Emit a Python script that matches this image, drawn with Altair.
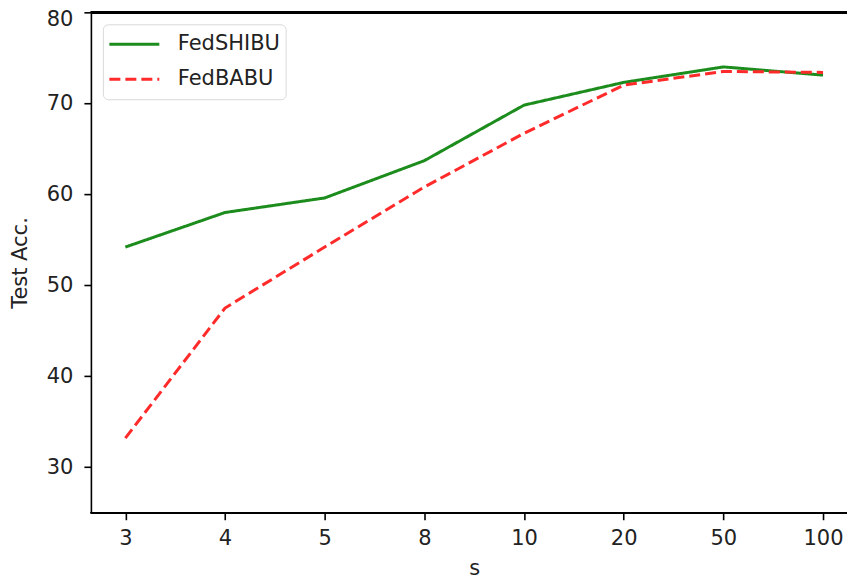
import altair as alt
import pandas as pd

s_values = ["3", "4", "5", "8", "10", "20", "50", "100"]
fedshibu = [54.2, 58.0, 59.6, 63.7, 69.8, 72.3, 74.0, 73.1]
fedbabu = [33.2, 47.5, 54.2, 60.8, 66.7, 72.0, 73.5, 73.4]
series = ["FedSHIBU", "FedBABU"]
y_ticks = [30, 40, 50, 60, 70, 80]

rows = []
for name, vals in zip(series, [fedshibu, fedbabu]):
    for s, v in zip(s_values, vals):
        rows.append({"s": s, "acc": v, "method": name})
df = pd.DataFrame(rows)

FONT = "DejaVu Sans"
FS = 21

lines = alt.Chart(df).mark_line(strokeWidth=3).encode(
    x=alt.X(
        "s:N",
        sort=s_values,
        scale=alt.Scale(type="point", range=[34.5, 733], padding=0),
        axis=alt.Axis(labelAngle=0, title="s", domain=False),
    ),
    y=alt.Y(
        "acc:Q",
        scale=alt.Scale(domain=[25, 80], nice=False, zero=False),
        axis=alt.Axis(values=y_ticks, title="Test Acc.", labelFlush=1, labelFlushOffset=4),
    ),
    color=alt.Color(
        "method:N",
        scale=alt.Scale(domain=series, range=["#1c8c1c", "#ff2a2a"]),
        legend=alt.Legend(title=None),
    ),
    strokeDash=alt.StrokeDash(
        "method:N",
        scale=alt.Scale(domain=series, range=[[1, 0], [11, 5]]),
        legend=alt.Legend(title=None),
    ),
)

top_spine = alt.Chart(df).mark_rule(color="black", strokeWidth=1.6).encode(
    y=alt.datum(80)
)
bottom_spine = alt.Chart(df).mark_rule(color="black", strokeWidth=1.6).encode(
    y=alt.datum(25)
)

chart = (
    alt.layer(lines, top_spine, bottom_spine)
    .properties(
        width=757,
        height=501,
        autosize=alt.AutoSizeParams(type="none"),
        padding={"left": 83, "top": 4, "right": 0, "bottom": 68},
    )
    .configure_view(stroke=None)
    .configure_axis(
        grid=False,
        domainColor="black",
        domainWidth=1.6,
        tickColor="black",
        tickWidth=1.6,
        tickSize=7,
        labelFont=FONT,
        labelFontSize=FS,
        labelColor="#222222",
        titleFont=FONT,
        titleFontSize=FS,
        titleFontWeight="normal",
        titleColor="#222222",
    )
    .configure_axisX(labelPadding=8, titlePadding=9)
    .configure_axisY(labelPadding=11, titlePadding=16)
    .configure_legend(
        orient="none",
        legendX=12,
        legendY=12,
        strokeColor="#d9d9d9",
        fillColor="white",
        cornerRadius=5,
        padding=5,
        symbolType="stroke",
        symbolSize=2500,
        symbolStrokeWidth=3,
        labelFont=FONT,
        labelFontSize=FS,
        labelColor="#222222",
        labelOffset=17,
        clipHeight=30,
        rowPadding=5,
    )
)

chart.save("out.html", embed_options={"renderer": "svg", "actions": False})
